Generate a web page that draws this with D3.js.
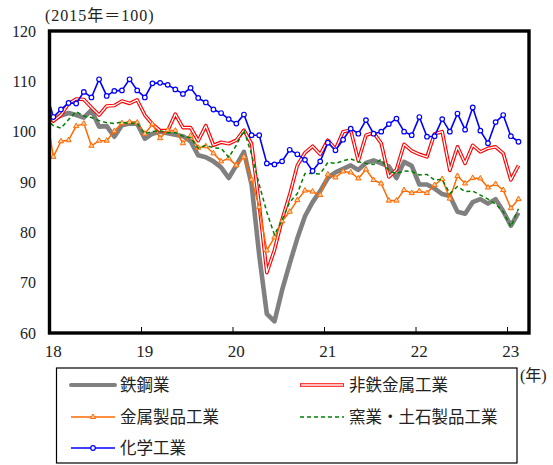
<!DOCTYPE html>
<html>
<head>
<meta charset="utf-8">
<script src="https://cdn.jsdelivr.net/npm/d3@7/dist/d3.min.js"></script>
<style>
body { margin: 0; background: #fff; }
text { font-family: "Liberation Serif", "Noto Sans CJK JP", serif; fill: #222; }
.jp { font-family: "Noto Sans CJK JP", sans-serif; }
</style>
</head>
<body>
<svg id="chart" width="553" height="465"></svg>
<script>
// monthly index, 2015 = 100, Dec 2017 .. Feb 2023
var steel = [102.0,
    102.5, 103.2, 103.7, 103.3, 102.8, 104.3, 101.0, 101.1, 99.0, 101.3, 101.6, 101.6,
    98.6, 99.6, 100.0, 99.7, 99.4, 99.1, 98.1, 95.3, 94.9, 94.1, 92.9, 90.8,
    93.3, 96.0, 89.5, 75.5, 63.8, 62.3, 68.5, 73.8, 78.8, 83.2, 86.0, 88.2,
    90.8, 91.9, 92.6, 93.3, 92.4, 93.8, 94.3, 93.7, 93.1, 90.8, 94.0, 93.2,
    89.5, 89.5, 88.7, 87.6, 87.2, 84.1, 83.7, 86.0, 86.6, 85.7, 86.6, 84.2,
    81.3, 83.9];
var nonferrous = [106.0,
    102.1, 103.3, 105.6, 106.5, 106.4, 104.8, 103.3, 105.1, 105.2, 106.1, 105.6, 106.3,
    103.3, 101.5, 100.2, 100.2, 103.5, 100.8, 100.8, 98.2, 101.2, 97.3, 97.9, 97.6,
    98.3, 100.3, 97.6, 85.5, 72.0, 76.5, 82.5, 87.5, 93.3, 95.8, 97.1, 95.5,
    98.3, 96.5, 100.0, 100.3, 94.2, 99.3, 99.8, 97.7, 91.0, 92.5, 97.5, 96.2,
    95.5, 95.0, 99.6, 100.0, 92.3, 97.0, 93.7, 97.3, 96.0, 96.7, 97.0, 95.7,
    90.4, 93.3];
var metalProducts = [104.6,
    95.0, 98.1, 98.3, 101.1, 101.6, 97.2, 98.2, 98.2, 100.1, 101.7, 101.9, 101.8,
    99.6, 101.5, 98.7, 100.3, 100.2, 97.7, 99.2, 96.8, 97.1, 95.7, 94.1, 94.7,
    93.3, 95.0, 90.5, 85.0, 76.4, 79.0, 82.2, 84.1, 86.4, 88.3, 88.1, 87.4,
    91.5, 90.9, 92.1, 91.9, 90.7, 92.5, 90.4, 89.7, 86.3, 86.3, 88.4, 87.8,
    88.2, 87.8, 89.4, 90.6, 86.7, 91.2, 89.7, 90.8, 90.7, 88.9, 89.6, 88.4,
    84.8, 86.6];
var ceramics = [102.6,
    101.2, 100.7, 102.4, 104.0, 103.1, 102.8, 102.2, 101.8, 101.6, 101.9, 101.6, 101.7,
    99.6, 100.0, 100.2, 99.8, 99.8, 99.1, 98.8, 96.7, 97.3, 96.8, 96.7, 94.9,
    97.3, 100.3, 95.5, 89.5, 84.0, 79.5, 82.5, 86.0, 87.7, 91.7, 91.7, 91.6,
    93.9, 93.7, 94.2, 94.6, 94.0, 93.7, 93.5, 94.5, 92.2, 91.7, 92.2, 92.1,
    91.4, 91.5, 90.4, 90.5, 87.7, 89.1, 88.1, 88.2, 87.4, 86.6, 85.6, 84.1,
    81.1, 84.7];
var chemical = [108.5,
    102.9, 104.4, 105.7, 105.6, 107.9, 106.8, 110.4, 107.1, 108.1, 108.2, 110.4, 108.2,
    106.8, 109.6, 109.7, 109.3, 108.4, 107.5, 108.7, 106.7, 105.8, 104.4, 103.7, 102.5,
    101.6, 103.4, 99.3, 99.3, 93.7, 93.5, 94.1, 96.4, 95.5, 94.4, 92.2, 94.1,
    97.8, 96.3, 98.4, 100.6, 99.6, 102.3, 99.6, 100.0, 101.5, 102.6, 100.0, 99.3,
    102.9, 99.0, 99.1, 102.5, 100.0, 103.6, 100.4, 104.8, 100.2, 97.7, 101.9, 103.3,
    99.1, 98.0];

var names = ["鉄鋼業", "非鉄金属工業", "金属製品工業", "窯業・土石製品工業", "化学工業"];
var yearLabels = ["18", "19", "20", "21", "22", "23"];
var yTicks = [60, 70, 80, 90, 100, 110, 120];

var svg = d3.select("#chart");
var L = 49.5, R = 529, T = 31, B = 333;

var x = d3.scaleLinear().domain([18, 23.24]).range([L, R]);
var y = d3.scaleLinear().domain([60, 120]).range([B, T]);

// i = 0 is Dec 2017, points sit mid-month
function tpos(i) { return 18 + (i - 0.5) / 12; }

svg.append("clipPath").attr("id", "plot-clip")
    .append("rect").attr("x", L).attr("y", T).attr("width", R - L).attr("height", B - T);

var line = d3.line()
    .x(function(d, i) { return x(tpos(i)); })
    .y(function(d) { return y(d); });

var series = [
    {name: names[0], values: steel, color: "#808080", width: 4.6},
    {name: names[1], values: nonferrous, color: "#ff0000", width: 3.6, dbl: true},
    {name: names[2], values: metalProducts, color: "#ff6a00", width: 1.5, mark: "tri"},
    {name: names[3], values: ceramics, color: "#008000", width: 1.5, dash: "4,3"},
    {name: names[4], values: chemical, color: "#0000ff", width: 1.6, mark: "circ"}
];

var plot = svg.append("g").attr("clip-path", "url(#plot-clip)");

function drawMarker(g, s, cx, cy) {
    if (s.mark == "tri") {
        g.append("path")
            .attr("d", d3.symbol().type(d3.symbolTriangle).size(12)())
            .attr("transform", "translate(" + cx + "," + cy + ")")
            .attr("fill", "#ffd0a8").attr("stroke", s.color).attr("stroke-width", 1);
    } else if (s.mark == "circ") {
        g.append("circle").attr("cx", cx).attr("cy", cy).attr("r", 2.3)
            .attr("fill", "#fff").attr("stroke", s.color).attr("stroke-width", 1.2);
    }
}

series.forEach(function(s) {
    var g = plot.append("g");
    g.append("path").datum(s.values)
        .attr("d", line)
        .attr("fill", "none")
        .attr("stroke", s.color)
        .attr("stroke-width", s.width)
        .attr("stroke-linejoin", "round")
        .attr("stroke-dasharray", s.dash || null);
    if (s.dbl) {
        g.append("path").datum(s.values)
            .attr("d", line)
            .attr("fill", "none")
            .attr("stroke", "#fff")
            .attr("stroke-width", 1.3)
            .attr("stroke-linejoin", "round");
    }
    if (s.mark) {
        s.values.forEach(function(v, i) {
            if (i == 0) return;
            drawMarker(g, s, x(tpos(i)), y(v));
        });
    }
});

// year ticks on the bottom edge, pointing inward
var xAxis = d3.axisBottom(x).tickValues([19, 20, 21, 22, 23]).tickSize(-6).tickFormat("");
svg.append("g").attr("transform", "translate(0," + B + ")").call(xAxis)
    .call(function(g) { g.select(".domain").remove(); })
    .selectAll("line").attr("stroke", "#000").attr("stroke-width", 1);

// frame
svg.append("rect").attr("x", L).attr("y", T).attr("width", R - L).attr("height", B - T)
    .attr("fill", "none").attr("stroke", "#000").attr("stroke-width", 3.4);

// y labels
svg.selectAll(".ylab").data(yTicks).enter().append("text")
    .attr("class", "ylab")
    .attr("x", 36).attr("y", function(d) { return y(d) + 5.5; })
    .attr("text-anchor", "end").style("font-size", "16px")
    .text(function(d) { return d; });

// x labels at January of each year
svg.selectAll(".xlab").data(yearLabels).enter().append("text")
    .attr("class", "xlab")
    .attr("x", function(d) { return x(+d + 0.5 / 12); })
    .attr("y", 357)
    .attr("text-anchor", "middle").style("font-size", "17px")
    .text(function(d) { return d; });

svg.append("text").attr("x", 45).attr("y", 21).style("font-size", "16px")
    .style("letter-spacing", "1px")
    .text("(2015年＝100)");
svg.append("text").attr("x", 520).attr("y", 381).style("font-size", "16px")
    .text("(年)");

// legend
var lg = svg.append("g");
lg.append("rect").attr("x", 56.5).attr("y", 368).attr("width", 460.5).attr("height", 95)
    .attr("fill", "#fff").attr("stroke", "#000").attr("stroke-width", 1.2);

var slots = [[71, 385], [300, 385], [71, 417], [300, 417], [71, 448]];
series.forEach(function(s, i) {
    var px = slots[i][0], py = slots[i][1];
    var g = lg.append("g");
    g.append("line").attr("x1", px).attr("x2", px + 44).attr("y1", py).attr("y2", py)
        .attr("stroke", s.color).attr("stroke-width", s.dbl ? 3.6 : (i == 0 ? 4 : 1.5))
        .attr("stroke-dasharray", s.dash || null)
        .attr("stroke-linecap", i == 0 ? "round" : null);
    if (s.dbl) {
        g.append("line").attr("x1", px + 0.8).attr("x2", px + 43.2).attr("y1", py).attr("y2", py)
            .attr("stroke", "#fff").attr("stroke-width", 1.3);
    }
    if (s.mark) drawMarker(g, s, px + 22, py);
    g.append("text").attr("class", "jp").attr("x", px + 49).attr("y", py + 6)
        .style("font-size", "16.5px").text(s.name);
});
</script>
</body>
</html>
